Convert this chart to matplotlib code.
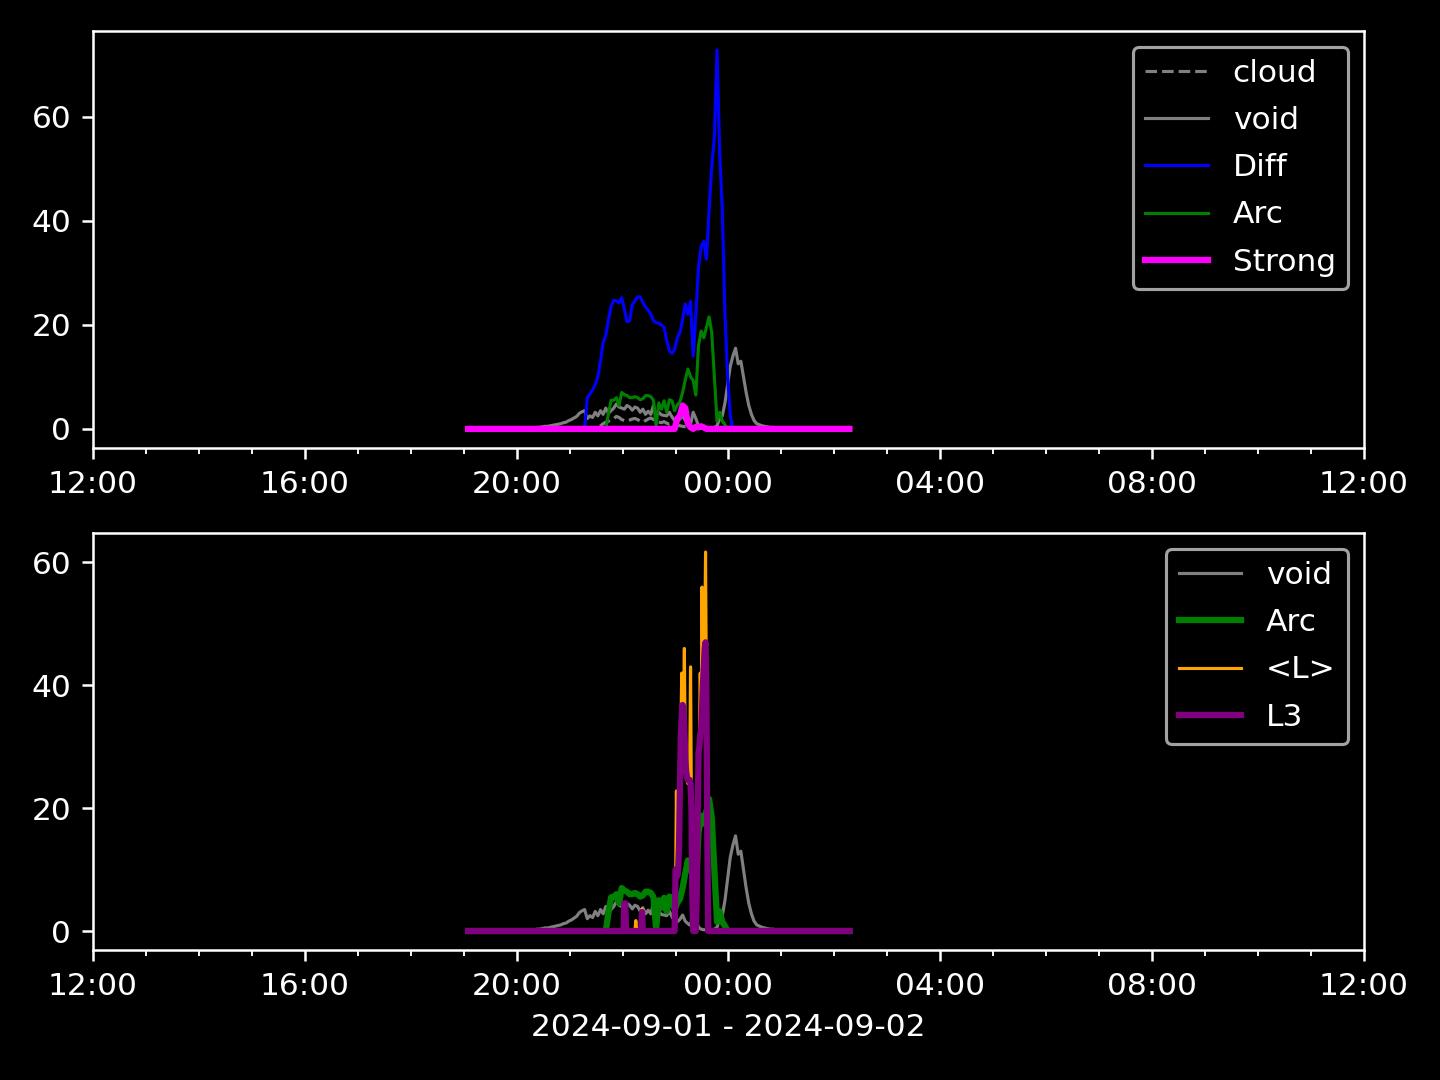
import numpy as np
import pandas as pd
import matplotlib.pyplot as plt
import matplotlib.dates as mdates
from matplotlib.ticker import MultipleLocator

plt.style.use('dark_background')

x_from = pd.Timestamp('2024-09-01 12:00')
x_to = pd.Timestamp('2024-09-02 12:00')
t_first = pd.Timestamp('2024-09-01 19:05')
t_last = pd.Timestamp('2024-09-02 02:17')

# 3-minute samples, zero outside the listed window
cloud_start = '2024-09-01 21:29'
cloud = [0, 0.3, 0.6, 1.0, 1.3, 1.5, 1.8, 2.0, 2.4, 2.2, 1.8, 1.6, 1.5, 1.7, 1.9,
         2.0, 1.8, 1.5, 1.3, 1.6, 1.9, 2.1, 1.8, 1.5, 1.3, 1.2, 1.4, 1.1, 0.9, 1.0,
         0.8, 0.7, 0.6, 0.5, 0.4, 0.4, 0.3, 0.3, 0.2, 0.2, 0.1, 0.1, 0]

void_start = '2024-09-01 20:05'
void = [0, 0.1, 0.1, 0.15, 0.2, 0.2, 0.3, 0.3, 0.4, 0.5, 0.5, 0.6, 0.7, 0.8, 0.9,
        1.0, 1.2, 1.3, 1.6, 1.8, 2.1, 2.4, 3.0, 3.3, 3.5, 2.0, 2.5, 2.2, 3.2, 2.5,
        3.5, 2.8, 4.0, 3.0, 3.5, 4.0, 4.8, 4.2, 4.0, 3.8, 4.5, 4.2, 3.6, 4.2, 4.0,
        3.2, 3.8, 2.8, 3.4, 2.8, 4.5, 2.6, 3.2, 2.7, 2.6, 2.5, 3.2, 2.3, 1.6, 1.5,
        1.9, 2.6, 1.6, 1.2, 0.9, 3.2, 2.0, 0.6, 0.3, 0.2, 0.2, 0.2, 0.2, 0.3, 0.6,
        2.0, 2.5, 5.0, 8.5, 12.0, 14.0, 15.5, 12.5, 13.0, 10.0, 7.0, 4.5, 2.8, 1.6,
        1.0, 0.8, 0.6, 0.5, 0.4, 0.3, 0.3, 0.2, 0.2, 0.1, 0.1, 0]

diff_start = '2024-09-01 21:17'
diff = [0, 6, 6.7, 7.5, 8.5, 10, 13, 16.6, 18, 21, 23.5, 24.7, 24.6, 24.2, 25.2,
        23, 20.6, 20.8, 23.8, 24.6, 25.4, 25.3, 24.3, 23.4, 22.8, 22, 20.8, 20.4,
        20.3, 20, 19.5, 17, 15, 14.5, 15.3, 17.5, 18.5, 21, 24, 22, 24.5, 14, 22,
        31, 35, 36, 32.6, 42, 50.5, 56, 72.8, 53, 42, 22, 10, 2.5, 0]

arc_start = '2024-09-01 21:41'
arc = [0, 3, 5.5, 5.5, 6, 4.5, 7, 6.6, 6.4, 6, 6, 6.2, 6, 5.6, 5.8, 6.4, 6.4, 6.2,
       5.5, 0.5, 5, 3.8, 5.4, 3.2, 5.6, 5.4, 3.5, 4.6, 5.2, 7, 9.4, 11.5, 10, 9.3,
       6.5, 16, 18.8, 17.5, 19.5, 21.5, 18.5, 10, 1.5, 3.2, 1.5, 0.8, 0]

strong_start = '2024-09-01 22:59'
strong = [0, 2, 2.5, 4.5, 4, 1, 0.3, 0, 0.4, 0.3, 0.5, 0.3, 0]

# 1-minute detail for the spiky series
l_times = ['22:01', '22:02', '22:03', '22:04', '22:14', '22:15', '22:16',
           '22:21', '22:22', '22:23',
           '22:59', '23:00', '23:01', '23:02', '23:03', '23:04', '23:05', '23:06',
           '23:07', '23:08', '23:09', '23:10', '23:11', '23:12', '23:13', '23:14',
           '23:15', '23:16', '23:17', '23:18', '23:19', '23:20', '23:23', '23:24',
           '23:25', '23:26', '23:27', '23:28', '23:29', '23:30', '23:31', '23:32',
           '23:33', '23:34', '23:35', '23:36', '23:37']
l_avg = [0, 4.5, 4.0, 0, 0, 1.7, 0, 0, 3.6, 0,
         0, 6, 22.8, 9, 10, 14, 24, 32, 42, 36, 35, 46, 28, 26, 25, 24,
         24, 24, 43, 20, 6, 0, 0, 6, 18, 29, 30, 42, 32, 56, 40, 43,
         46, 61.7, 38, 15, 0]
l3 = [0, 4.5, 4.5, 0, 0, 0, 0, 0, 3.1, 0,
      0, 10, 10, 9, 10, 14, 24, 32, 35, 36.8, 36, 33, 28, 26, 25, 24.6,
      24.6, 24.6, 24, 20, 6, 0, 0, 6, 18, 29, 30, 32, 32.8, 36, 40, 43,
      46, 47, 38, 15, 0]


def grid_series(start, vals, step=3):
    t = pd.date_range(start, periods=len(vals), freq=f'{step}min')
    t = pd.DatetimeIndex([t_first]).append(t).append(pd.DatetimeIndex([t_last]))
    return t, [0] + list(vals) + [0]


def clock_series(times, vals):
    t = []
    for s in times:
        day = '2024-09-01 ' if int(s[:2]) >= 12 else '2024-09-02 '
        t.append(pd.Timestamp(day + s))
    t = pd.DatetimeIndex([t_first] + t + [t_last])
    return t, [0] + list(vals) + [0]


fig, (ax1, ax2) = plt.subplots(2, 1, figsize=(6.4, 4.8), dpi=225)
fig.subplots_adjust(left=0.0646, right=0.9472, top=0.9713, bottom=0.1204, hspace=0.2045)

t, y = grid_series(cloud_start, cloud)
ax1.plot(t, y, color='gray', ls='--', lw=1, label='cloud')
t, y = grid_series(void_start, void)
ax1.plot(t, y, color='gray', lw=1, label='void')
t, y = grid_series(diff_start, diff)
ax1.plot(t, y, color='blue', lw=1, label='Diff')
t, y = grid_series(arc_start, arc)
ax1.plot(t, y, color='green', lw=1, label='Arc')
t, y = grid_series(strong_start, strong)
ax1.plot(t, y, color='magenta', lw=2, label='Strong')
ax1.legend(loc='upper right', labelspacing=0.58)

t, y = grid_series(void_start, void)
ax2.plot(t, y, color='gray', lw=1, label='void')
t, y = grid_series(arc_start, arc)
ax2.plot(t, y, color='green', lw=2, label='Arc')
t, y = clock_series(l_times, l_avg)
ax2.plot(t, y, color='orange', lw=1, label='<L>')
t, y = clock_series(l_times, l3)
ax2.plot(t, y, color='purple', lw=2, label='L3')
ax2.legend(loc='upper right', labelspacing=0.58)
ax2.set_xlabel('2024-09-01 - 2024-09-02')

for ax in (ax1, ax2):
    ax.set_xlim(x_from, x_to)
    ax.xaxis.set_major_locator(mdates.HourLocator(byhour=range(0, 24, 4)))
    ax.xaxis.set_minor_locator(mdates.HourLocator())
    ax.xaxis.set_major_formatter(mdates.DateFormatter('%H:%M'))
    ax.yaxis.set_major_locator(MultipleLocator(20))

plt.savefig('out.png')
